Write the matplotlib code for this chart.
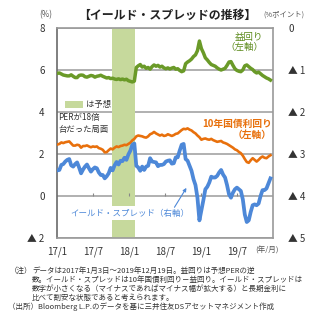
import numpy as np
import pandas as pd
import matplotlib
matplotlib.use("Agg")
import matplotlib.pyplot as plt
from matplotlib.patches import Rectangle

plt.rcParams['font.family'] = ['Noto Sans CJK JP', 'DejaVu Sans']

# observations every 10 days, 2017-01-03 .. 2019-12-19
dates = pd.date_range('2017-01-03', '2019-12-19', freq='10D')

# earnings yield (%), left axis
earnings_yield = [
    5.84, 5.86, 5.81, 5.76, 5.74, 5.72, 5.72, 5.77, 5.70, 5.64,
    5.64, 5.74, 5.76, 5.75, 5.68, 5.66, 5.70, 5.74, 5.72, 5.66,
    5.70, 5.72, 5.75, 5.70, 5.66, 5.62, 5.64, 5.59, 5.61, 5.57,
    5.55, 5.58, 5.54, 5.57, 5.53, 5.56, 5.49, 5.46, 5.43, 5.47,
    6.12, 6.20, 6.26, 6.14, 6.18, 6.08, 6.12, 6.04, 6.16, 6.24,
    6.18, 6.22, 6.14, 6.18, 6.10, 6.06, 6.10, 6.05, 6.09, 6.12,
    6.04, 6.06, 5.98, 5.92, 5.96, 6.30, 6.38, 6.44, 6.52, 6.64,
    6.72, 6.92, 7.38, 7.02, 6.82, 6.58, 6.48, 6.36, 6.26, 6.22,
    6.18, 6.10, 6.04, 6.00, 6.04, 6.08, 6.22, 6.38, 6.40, 6.22,
    6.06, 5.98, 5.94, 5.92, 6.00, 6.20, 6.24, 6.16, 6.08, 6.02,
    5.92, 5.86, 5.90, 5.82, 5.74, 5.68, 5.62, 5.58, 5.52]

# 10-year government bond yield (%), left axis
bond_yield_10y = [
    2.45, 2.48, 2.55, 2.52, 2.56, 2.58, 2.60, 2.50, 2.40, 2.40,
    2.44, 2.42, 2.30, 2.38, 2.38, 2.41, 2.36, 2.32, 2.36, 2.34,
    2.36, 2.28, 2.25, 2.20, 2.08, 2.09, 2.18, 2.26, 2.22, 2.30,
    2.36, 2.33, 2.38, 2.40, 2.44, 2.42, 2.48, 2.54, 2.65, 2.72,
    2.84, 2.88, 2.86, 2.84, 2.80, 2.78, 2.84, 2.94, 2.98, 3.05,
    2.98, 2.93, 2.88, 2.92, 2.86, 2.88, 2.94, 2.90, 2.86, 2.90,
    2.96, 2.98, 3.06, 3.14, 3.20, 3.18, 3.22, 3.16, 3.12, 3.04,
    2.98, 2.88, 2.80, 2.68, 2.72, 2.74, 2.70, 2.68, 2.72, 2.66,
    2.62, 2.58, 2.60, 2.62, 2.55, 2.52, 2.48, 2.42, 2.36, 2.30,
    2.22, 2.18, 2.10, 2.04, 1.92, 1.76, 1.62, 1.58, 1.70, 1.80,
    1.72, 1.64, 1.72, 1.82, 1.88, 1.82, 1.80, 1.88, 1.94]

# yield spread = 10y yield - earnings yield (%pt), right axis
yield_spread = np.array(bond_yield_10y) - np.array(earnings_yield)

# period with forward PER in the 18x range
per18_start = pd.Timestamp('2017-10-06')
per18_end = pd.Timestamp('2018-02-01')

x_ticks = pd.to_datetime(['2017-01-01', '2017-07-01', '2018-01-01',
                          '2018-07-01', '2019-01-01', '2019-07-01'])
x_labels = ['17/1', '17/7', '18/1', '18/7', '19/1', '19/7']
left_ticks = [-2, 0, 2, 4, 6, 8]
left_labels = ['▲ 2', '0', '2', '4', '6', '8']
right_ticks = [0, -1, -2, -3, -4, -5]
right_labels = ['0', '▲ 1', '▲ 2', '▲ 3', '▲ 4', '▲ 5']

GREEN = '#6a9a28'
ORANGE = '#e8700c'
BLUE = '#4d88d8'
GRID = '#aaaaaa'
TXT = '#333333'

W, H = 322, 325
fig = plt.figure(figsize=(W / 100, H / 100), dpi=100)
ax = fig.add_axes([57 / W, 1 - 238 / H, 216 / W, 210 / H])

ax.set_xlim(pd.Timestamp('2017-01-01'), pd.Timestamp('2020-01-01'))
ax.set_ylim(-2, 8)
ax.set_yticks(left_ticks)
ax.set_yticklabels(left_labels)
ax.set_xticks(x_ticks)
ax.set_xticklabels(x_labels)
ax.tick_params(axis='both', length=0, labelsize=7, colors=TXT)
ax.tick_params(axis='y', pad=9)
ax.tick_params(axis='x', pad=6)
ax.set_axisbelow(True)
ax.grid(axis='y', color=GRID, lw=1.3)
for side, sp in ax.spines.items():
    sp.set_color('#9a9a9a')
    sp.set_linewidth(1.2)
ax.spines['left'].set_color('#6a6a6a')

ax.axvspan(per18_start, per18_end, color='#c6d99c', lw=0, zorder=1.5)

# small half-year ticks on the zero line
ax.vlines(x_ticks[1:], 0, 0.14, color='#888888', lw=0.8, zorder=2)

ax.plot(dates, earnings_yield, color=GREEN, lw=2.5, zorder=3,
        solid_joinstyle='round')
ax.plot(dates, bond_yield_10y, color=ORANGE, lw=1.9, zorder=3,
        solid_joinstyle='round')

ax2 = ax.twinx()
ax2.set_ylim(-5, 0)
ax2.set_yticks(right_ticks)
ax2.set_yticklabels(right_labels)
ax2.tick_params(axis='y', length=0, labelsize=7, colors=TXT, pad=11)
for sp in ax2.spines.values():
    sp.set_visible(False)
ax2.plot(dates, yield_spread, color=BLUE, lw=2.7, zorder=3,
         solid_joinstyle='round')

# series labels
ax2.text(0.955, 0.93, '益回り\n（左軸）', transform=ax2.transAxes,
         color='#5e8c1e', fontsize=6.8, ha='right', va='center',
         linespacing=1.15)
ax2.text(0.995, 0.515, '10年国債利回り\n（左軸）', transform=ax2.transAxes,
         color=ORANGE, fontsize=7, fontweight='bold', ha='right',
         va='center', linespacing=1.15)
ax2.text(0.335, 0.119, 'イールド・スプレッド（右軸）', transform=ax2.transAxes,
         color=BLUE, fontsize=6.1, ha='center', va='center', zorder=5,
         bbox=dict(boxstyle='square,pad=0.35', fc='white', ec='none'))
ax2.annotate('', xy=(0.606, 0.25), xytext=(0.537, 0.135),
             xycoords='axes fraction', textcoords='axes fraction',
             arrowprops=dict(arrowstyle='-|>', color=BLUE, lw=0.8,
                             mutation_scale=5), zorder=5)

# shading legend
ax2.add_patch(Rectangle((0.037, 0.619), 0.083, 0.034,
                        transform=ax2.transAxes, fc='#c6d99c', ec='none',
                        zorder=5))
ax2.text(0.134, 0.636, 'は予想', transform=ax2.transAxes, color=TXT,
         fontsize=6, ha='left', va='center')
ax2.text(0.006, 0.575, 'PERが18倍', transform=ax2.transAxes, color=TXT,
         fontsize=6, ha='left', va='center')
ax2.text(0.006, 0.518, '台だった局面', transform=ax2.transAxes, color=TXT,
         fontsize=6, ha='left', va='center')

# title and unit labels
fig.text(167 / W, 1 - 15 / H, '【イールド・スプレッドの推移】', fontsize=8.6,
         fontweight='bold', color='#222222', ha='center', va='center')
fig.text(46 / W, 1 - 15 / H, '(%)', fontsize=5.8, color='#555555',
         ha='center', va='center')
fig.text(284 / W, 1 - 15 / H, '(%ポイント)', fontsize=5.3, color='#555555',
         ha='center', va='center')
fig.text(267 / W, 1 - 251 / H, '(年/月)', fontsize=5.5, color='#555555',
         ha='center', va='center')

# notes
notes = [
    (10, 271, '（注）'),
    (32, 271, 'データは2017年1月3日～2019年12月19日。益回りは予想PERの逆'),
    (32, 280, '数。イールド・スプレッドは10年国債利回り－益回り。イールド・スプレッドは'),
    (32, 289, '数字が小さくなる（マイナスであればマイナス幅が拡大する）と長期金利に'),
    (32, 298, '比べて割安な状態であると考えられます。'),
    (8, 307, '（出所）Bloomberg L.P.のデータを基に三井住友DSアセットマネジメント作成'),
]
for nx, ny, s in notes:
    fig.text(nx / W, 1 - ny / H, s, fontsize=5.4, color=TXT,
             ha='left', va='center')

fig.savefig('out.png', dpi=100)
